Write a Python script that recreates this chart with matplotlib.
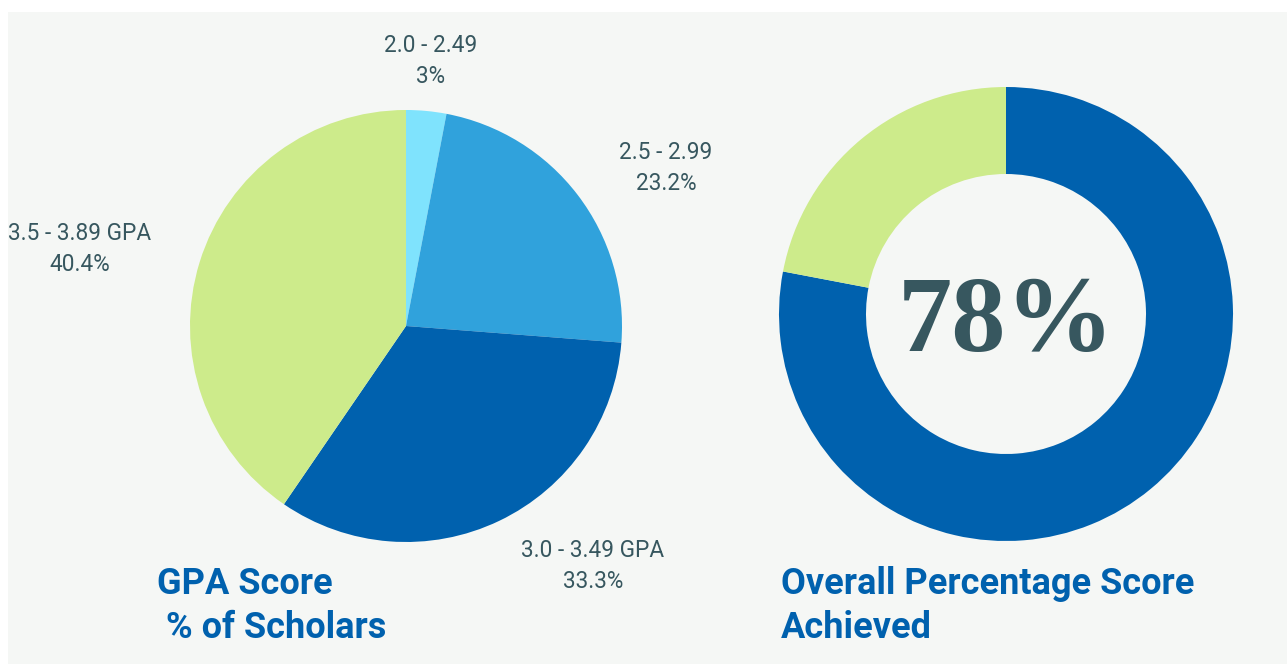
import matplotlib
matplotlib.use('Agg')
import matplotlib.pyplot as plt
from matplotlib.patches import Rectangle

# data
gpa_labels = ['2.0 - 2.49', '2.5 - 2.99', '3.0 - 3.49 GPA', '3.5 - 3.89 GPA']
gpa_pct = [3.0, 23.2, 33.3, 40.4]
gpa_colors = ['#7fe3fd', '#30a2dc', '#0061ae', '#cdeb8b']
overall_pct = [78, 22]
overall_colors = ['#0061ae', '#cdeb8b']

W, H = 1287, 664
bg = '#f5f7f5'
txt_col = '#37575f'
blue = '#0061ae'

plt.rcParams['font.family'] = ['Roboto', 'DejaVu Sans']

fig = plt.figure(figsize=(W / 100, H / 100), dpi=100)
fig.patch.set_facecolor('white')
fig.patches.append(Rectangle((8 / W, 0), 1, 1 - 12 / H, transform=fig.transFigure,
                             facecolor=bg, edgecolor='none', zorder=-10))

def px_axes(cx, cy, r):
    return fig.add_axes([(cx - r) / W, (H - cy - r) / H, 2 * r / W, 2 * r / H])

# GPA pie
ax1 = px_axes(406, 326, 216)
ax1.pie(gpa_pct, colors=gpa_colors, startangle=90, counterclock=False, radius=1,
        wedgeprops=dict(linewidth=0))
ax1.set_xlim(-1, 1)
ax1.set_ylim(-1, 1)
ax1.axis('off')

# overall donut
ax2 = px_axes(1006, 314, 227)
ax2.pie(overall_pct, colors=overall_colors, startangle=90, counterclock=False, radius=1,
        wedgeprops=dict(width=1 - 140 / 227, linewidth=0))
ax2.set_xlim(-1, 1)
ax2.set_ylim(-1, 1)
ax2.axis('off')
ax2.text(0, -0.05, '%d%%' % overall_pct[0], ha='center', va='center', fontsize=78,
         fontweight='bold', family='Liberation Serif', color=txt_col)

def ftext(x, y, s, **kw):
    fig.text(x / W, 1 - y / H, s, **kw)

label_pos = [(431, 61), (666, 168), (593, 566), (80, 249)]
for (x, y), lab, p in zip(label_pos, gpa_labels, gpa_pct):
    ps = ('%g' % p) if p != int(p) else '%d' % p
    ftext(x, y, lab + '\n' + ps + '%', ha='center', va='center', fontsize=16.3,
          color=txt_col, linespacing=1.48)

ftext(157, 606, 'GPA Score\n % of Scholars', ha='left', va='center', fontsize=26,
      fontweight='bold', color=blue, linespacing=1.3)
ftext(781, 606, 'Overall Percentage Score\nAchieved', ha='left', va='center', fontsize=26,
      fontweight='bold', color=blue, linespacing=1.3)

fig.savefig('out.png', dpi=100, facecolor=fig.get_facecolor())
